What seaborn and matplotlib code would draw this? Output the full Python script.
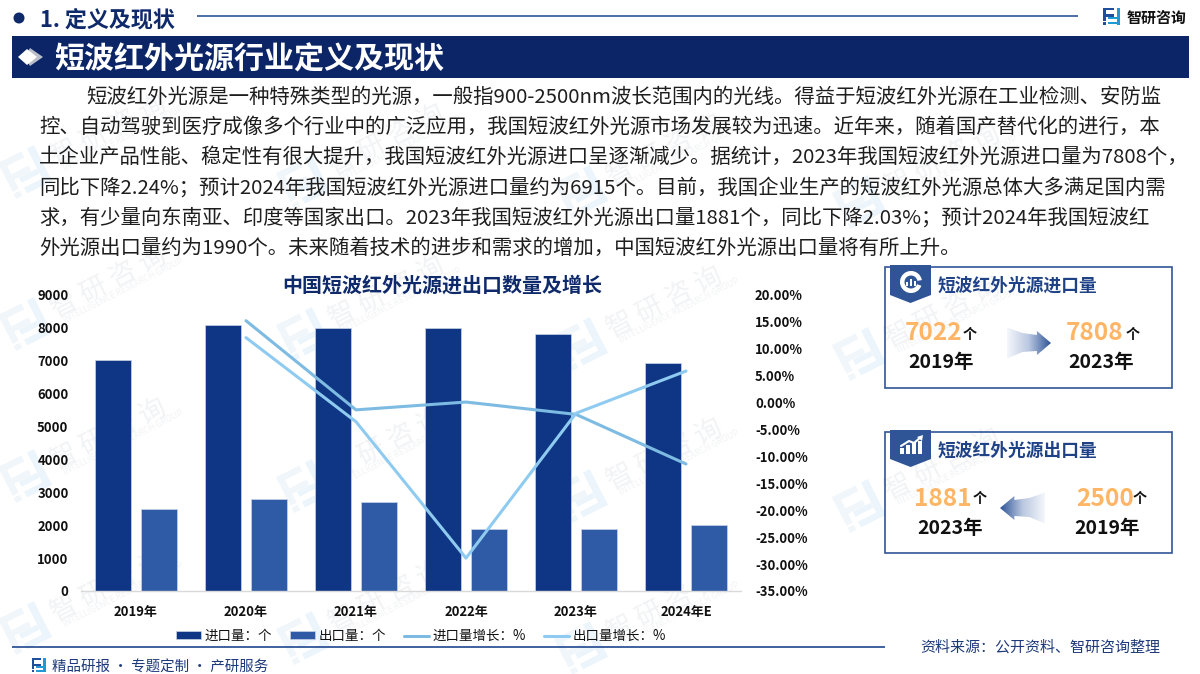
import numpy as np
import pandas as pd
import matplotlib
matplotlib.use("Agg")
import matplotlib.pyplot as plt
from matplotlib.patches import Polygon, Rectangle, Circle, Wedge
from matplotlib.transforms import Affine2D
from matplotlib.colors import LinearSegmentedColormap
import seaborn as sns

# ---------- data ----------
years = ["2019年", "2020年", "2021年", "2022年", "2023年", "2024年E"]
import_qty = [7000, 8080, 7975, 7975, 7808, 6915]
export_qty = [2500, 2780, 2690, 1895, 1881, 1990]
import_growth = [np.nan, 15.14, -1.40, 0.05, -2.24, -11.44]
export_growth = [np.nan, 12.0, -3.6, -28.9, -2.03, 5.8]
left_ticks = [0, 1000, 2000, 3000, 4000, 5000, 6000, 7000, 8000, 9000]
right_ticks = [-35, -30, -25, -20, -15, -10, -5, 0, 5, 10, 15, 20]
series_names = ["进口量：个", "出口量：个", "进口量增长：%", "出口量增长：%"]
chart_title = "中国短波红外光源进出口数量及增长"
body_lines = [
    "短波红外光源是一种特殊类型的光源，一般指900-2500nm波长范围内的光线。得益于短波红外光源在工业检测、安防监",
    "控、自动驾驶到医疗成像多个行业中的广泛应用，我国短波红外光源市场发展较为迅速。近年来，随着国产替代化的进行，本",
    "土企业产品性能、稳定性有很大提升，我国短波红外光源进口呈逐渐减少。据统计，2023年我国短波红外光源进口量为7808个，",
    "同比下降2.24%；预计2024年我国短波红外光源进口量约为6915个。目前，我国企业生产的短波红外光源总体大多满足国内需",
    "求，有少量向东南亚、印度等国家出口。2023年我国短波红外光源出口量1881个，同比下降2.03%；预计2024年我国短波红",
    "外光源出口量约为1990个。未来随着技术的进步和需求的增加，中国短波红外光源出口量将有所上升。",
]

# ---------- style ----------
sns.set_theme(style="white")
plt.rcParams["font.family"] = ["Noto Sans CJK SC", "DejaVu Sans"]
plt.rcParams["axes.unicode_minus"] = False

NAVY = "#0B2566"
BAR1 = "#0F3684"
BAR2 = "#2E5AA6"
LINE1 = "#7DBBE2"
LINE2 = "#8FCBF1"
BORDER = "#2F5597"
TITLE = "#0E2A6B"
ORANGE = "#FFB566"

W, H = 1200, 674
fig = plt.figure(figsize=(W / 100, H / 100), dpi=100, facecolor="white")

# ---------- pixel canvas behind everything ----------
bg = fig.add_axes([0, 0, 1, 1], zorder=0)
bg.set_xlim(0, W)
bg.set_ylim(H, 0)
bg.axis("off")


def T(x, y, s, px, color="#222222", weight="normal", ha="left", rot=0, z=5):
    return bg.text(x, y, s, fontsize=px * 0.72, color=color, fontweight=weight, ha=ha,
                   va="center_baseline", rotation=rot, rotation_mode="anchor", zorder=z)


def logo(cx, cy, s, c1, c2, rot=0, z=1):
    tf = Affine2D().scale(s).rotate_deg(rot).translate(cx, cy) + bg.transData
    dark = [(-1, -1, 1.3, .32), (-1, -.2, 1.3, .3), (-1, -1, .34, 1.6), (-1, .72, .34, .28)]
    cyan = [(.62, -1, .38, 2), (-.4, .68, 1.4, .32), (-.4, .12, 1.0, .28)]
    for group, col in ((dark, c1), (cyan, c2)):
        for x0, y0, w, h in group:
            bg.add_patch(Rectangle((x0, y0), w, h, fc=col, ec="none", transform=tf, zorder=z))


# watermark tiles (only those that sit wholly inside the page)
for k in range(0, 4):
    for j in range(-1, 3):
        x0 = 63 + 278 * k
        y0 = 302 + 10 * k + 152 * j
        if y0 - 70 < 0 or y0 + 40 > H or x0 + 135 > W:
            continue
        logo(x0 - 38, y0 + 22, 20, "#F1F6FA", "#ECF5FB", rot=-27, z=0.5)
        T(x0 - 12, y0 + 7, "智 研 咨 询", 27, color="#F2F3F5", rot=27, z=0.6)
        T(x0 + 0, y0 + 18, "INTELLIGENCE RESEARCH GROUP", 8.5, color="#F2F3F5", rot=27, z=0.6)

# top header
bg.add_patch(Circle((19, 18), 5.5, fc=TITLE, ec="none", zorder=3))
T(40, 18, "1. 定义及现状", 22, color=TITLE, weight="bold")
bg.plot([197, 1078], [16, 16], color=BORDER, lw=1.2, zorder=3, solid_capstyle="butt")
logo(1111.5, 16, 8.5, "#1F4E9C", "#1E9BD7", z=3)
T(1127, 16, "智研咨询", 15, color="#111111", weight="bold")

# banner
bg.add_patch(Rectangle((12, 36), 1177, 42, fc=NAVY, ec="none", zorder=3))
bg.add_patch(Polygon([(30, 48), (43, 57), (30, 66), (25, 57)], fc="#B9BEC9", ec="none", zorder=4))
bg.add_patch(Polygon([(27, 49), (37, 57), (27, 65), (18, 57)], fc="white", ec="none", zorder=5))
T(54, 57, "短波红外光源行业定义及现状", 30, color="white", weight="bold")

# paragraph
for i, line in enumerate(body_lines):
    T(86 if i == 0 else 39, 95 + 30.1 * i, line, 20.4, color="#1E1E1E")

# chart title
T(442, 283, chart_title, 20, color=TITLE, weight="bold", ha="center")

# bottom
bg.plot([12, 885], [647, 647], color=BORDER, lw=1.3, zorder=3, solid_capstyle="butt")
logo(38.5, 665, 7, "#1F4E9C", "#1E9BD7", z=3)
T(52, 666, "精品研报 · 专题定制 · 产研服务", 14.5, color="#1F3A7A")
T(920, 646, "资料来源：公开资料、智研咨询整理", 15, color="#1F3A7A")

# cards
for y0 in (267, 432):
    bg.add_patch(Rectangle((885, y0), 287, 121, fc="none", ec=BORDER, lw=1.2, zorder=3))


def pennant(y_top, y_bot, x0=890, x1=931):
    xm = (x0 + x1) / 2
    bg.add_patch(Polygon([(x0, y_top), (x1, y_top), (x1, y_bot - 8), (xm, y_bot), (x0, y_bot - 8)],
                         fc=BORDER, ec="none", zorder=4))


pennant(265, 303)
bg.add_patch(Wedge((911, 282), 11, 20, 350, width=4.5, fc="white", ec="none", zorder=5))
for dx, h in ((-4, 4), (0, 7), (4, 5)):
    bg.add_patch(Rectangle((911 + dx - 1.2, 286 - h), 2.4, h, fc="white", ec="none", zorder=5))
pennant(430, 467)
for dx, h in ((-9, 6), (-3, 9), (3, 11), (9, 13)):
    bg.add_patch(Rectangle((911 + dx - 2, 454 - h), 4, h, fc="white", ec="none", zorder=5))
bg.plot([901, 909, 914, 921], [446, 441, 443, 437], color="white", lw=1.5, zorder=5)
bg.add_patch(Polygon([(917, 437), (923, 435), (922, 441)], fc="white", ec="none", zorder=5))

T(938, 284, "短波红外光源进口量", 17.7, color="#1F4287", weight="bold")
T(938, 449, "短波红外光源出口量", 17.7, color="#1F4287", weight="bold")


def stat(x_num, y_num, num, x_unit, x_year, y_year, year):
    T(x_num, y_num, num, 24.5, color=ORANGE, weight="bold")
    T(x_unit, y_num + 2, "个", 14, color="#111111", weight="bold", ha="center")
    T(x_year, y_year, year, 19.5, color="#111111", weight="bold", ha="center")


stat(905, 331, "7022", 970, 941, 361, "2019年")
stat(1066, 331, "7808", 1133, 1101, 361, "2023年")
stat(914, 496, "1881", 980, 950, 526, "2023年")
stat(1076, 496, "2500", 1140, 1107, 526, "2019年")

cmap = LinearSegmentedColormap.from_list("fade", ["#F4F6FB", "#B9C7E0", "#2F5597"])


def grad_arrow(tail, tip, yc, flip):
    # shape in normalised units: u=0 at the tail, u=1 at the tip; v around the centre line
    L = tip - tail
    s = [(0, -15.5), (.35, -10), (.68, -8), (.68, -12), (1, 0), (.68, 12), (.68, 8), (.35, 9), (0, 15.5)]
    pts = [(tail + u * L, yc + v) for u, v in s]
    poly = Polygon(pts, fc="none", ec="none", transform=bg.transData)
    bg.add_patch(poly)
    g = np.linspace(0, 1, 64).reshape(1, -1)
    if flip:
        g = g[:, ::-1]
    im = bg.imshow(g, cmap=cmap, extent=(min(tail, tip), max(tail, tip), yc + 17, yc - 17),
                   aspect="auto", zorder=4, interpolation="bilinear")
    im.set_clip_path(poly)


grad_arrow(1007, 1051, 343, False)
grad_arrow(1045, 1000, 508, True)
bg.set_xlim(0, W)
bg.set_ylim(H, 0)

# ---------- chart ----------
ax = fig.add_axes([81 / W, 1 - 591 / H, 660 / W, 296.5 / H], zorder=2)
ax.patch.set_alpha(0)
df = pd.DataFrame({
    "年份": years * 2,
    "数量": import_qty + export_qty,
    "类别": [series_names[0]] * len(years) + [series_names[1]] * len(years),
})
sns.barplot(data=df, x="年份", y="数量", hue="类别", palette=[BAR1, BAR2], width=0.836, gap=0.2,
            ax=ax, saturation=1, edgecolor="#C9D4E8", linewidth=0.5)
ax.set_xlim(-0.5, len(years) - 0.5)
ax.set_ylim(0, 9000)
ax.set_yticks(left_ticks)
ax.set_xlabel("")
ax.set_ylabel("")
ax.tick_params(axis="both", length=0)
ax.tick_params(axis="x", pad=10)
ax.tick_params(axis="y", pad=9)
for lab in ax.get_xticklabels() + ax.get_yticklabels():
    lab.set_fontsize(9.4)
    lab.set_fontweight("bold")
    lab.set_color("#111111")
sns.despine(ax=ax, left=True, right=True, top=True)
ax.spines["bottom"].set_color("#D9D9D9")
ax.spines["bottom"].set_linewidth(1)
ax.grid(False)

ax2 = ax.twinx()
ax2.patch.set_alpha(0)
positions = np.arange(len(years))
sns.lineplot(x=positions, y=import_growth, color=LINE1, lw=2.2, label=series_names[2], ax=ax2)
sns.lineplot(x=positions, y=export_growth, color=LINE2, lw=2.2, label=series_names[3], ax=ax2)
ax2.set_xlim(-0.5, len(years) - 0.5)
ax2.set_ylim(-35, 20)
ax2.set_yticks(right_ticks)
ax2.set_yticklabels([f"{v:.2f}%" for v in right_ticks])
ax2.set_ylabel("")
ax2.tick_params(axis="y", length=0, pad=10)
for lab in ax2.get_yticklabels():
    lab.set_fontsize(9.4)
    lab.set_fontweight("bold")
    lab.set_color("#111111")
sns.despine(ax=ax2, left=True, right=True, top=True, bottom=True)
ax2.grid(False)

h1, l1 = ax.get_legend_handles_labels()
h2, l2 = ax2.get_legend_handles_labels()
ax.get_legend().remove()
ax2.get_legend().remove()
fig.legend(h1 + h2, l1 + l2, loc="center", bbox_to_anchor=(421 / W, 1 - 636 / H), ncol=4, frameon=False,
           fontsize=9.7, handlelength=1.85, handleheight=0.5, handletextpad=0.3, columnspacing=1.3,
           labelcolor="#111111")

fig.savefig("out.png", dpi=100)
